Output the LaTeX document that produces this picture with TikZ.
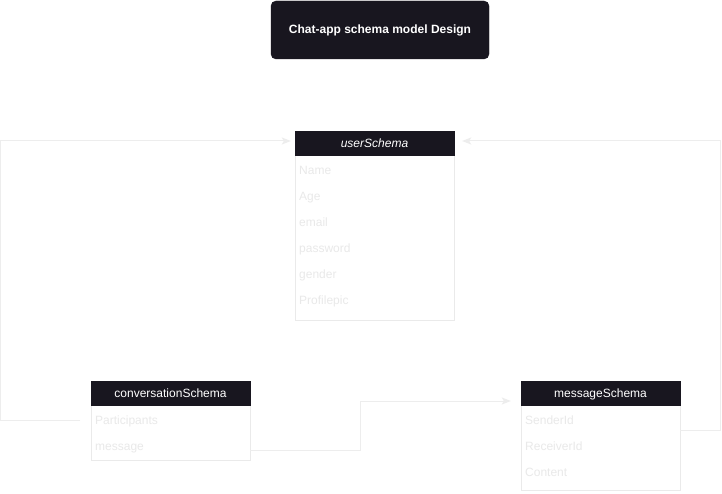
\documentclass[tikz,border=0pt]{standalone}
\usepackage{fontspec}
\setmainfont{Liberation Sans}
\usetikzlibrary{arrows.meta,calc}
\definecolor{hdark}{HTML}{18161F}
\definecolor{faint}{HTML}{E9E9E9}
\definecolor{edgec}{HTML}{EAEAEA}
\definecolor{linec}{HTML}{EDEDED}
\tikzset{
  titlebox/.style={fill=hdark, draw=hdark, rounded corners=5pt, minimum width=218pt, minimum height=58pt, text=white, font=\fontsize{12}{14}\selectfont\bfseries, inner sep=0pt},
  hdr/.style={fill=hdark, draw=hdark, minimum width=159pt, minimum height=24pt, text=white, font=\fontsize{12}{14}\selectfont, inner sep=0pt, text height=10.5pt, text depth=1.5pt},
  body/.style={draw=edgec, line width=0.8pt, fill=white, minimum width=159pt, inner sep=0pt},
  rowtxt/.style={anchor=west, text=faint, font=\fontsize{12}{14}\selectfont, inner sep=0pt, text height=10.5pt, text depth=1.5pt},
  conn/.style={draw=linec, line width=1pt, -{Stealth[length=9pt,width=7pt,inset=2pt]}},
}
\begin{document}
\begin{tikzpicture}[x=1pt,y=-1pt]
\useasboundingbox[fill=white] (0,0) rectangle (722,494);
% title
\node[titlebox] (title) at (380,30) {Chat-app schema model Design};
% userSchema
\node[body, minimum height=189pt] (userB) at (374.5,225.5) {};
\node[hdr] (userH) at (374.5,143) {\itshape userSchema};
\node[rowtxt] (uName) at (299,170) {Name};
\node[rowtxt] (uAge) at (299,196) {Age};
\node[rowtxt] (uEmail) at (299,222) {email};
\node[rowtxt] (uPass) at (299,248) {password};
\node[rowtxt] (uGender) at (299,274) {gender};
\node[rowtxt] (uPic) at (299,300) {Profilepic};
% conversationSchema
\node[body, minimum height=79pt] (convB) at (170.5,420.5) {};
\node[hdr] (convH) at (170.5,393) {conversationSchema};
\node[rowtxt] (cPart) at (95,420) {Participants};
\node[rowtxt] (cMsg) at (95,446) {message};
% messageSchema
\node[body, minimum height=109pt] (msgB) at (600.5,435.5) {};
\node[hdr] (msgH) at (600.5,393) {messageSchema};
\node[rowtxt] (mSend) at (525,420) {SenderId};
\node[rowtxt] (mRecv) at (525,446) {ReceiverId};
\node[rowtxt] (mCont) at (525,472) {Content};
% connector endpoints
\coordinate (a0) at (80,420);
\coordinate (a1) at ($(userH.west)+(-4,-2)$);
\coordinate (b0) at ($(convB.east)+(0,29.5)$);
\coordinate (b1) at ($(msgH.west)+(-10,8)$);
\coordinate (d0) at ($(msgB.east)+(0,-5.5)$);
\coordinate (d1) at ($(userH.east)+(8,-2)$);
% connectors
\draw[conn] (a0) -- (0.5,420) -- (0.5,141) -- (a1);
\draw[conn] (b0) -- (360.5,450) -- (360.5,401) -- (b1);
\draw[conn] (d0) -- (720.5,430) -- (720.5,141) -- (d1);
\end{tikzpicture}
\end{document}
